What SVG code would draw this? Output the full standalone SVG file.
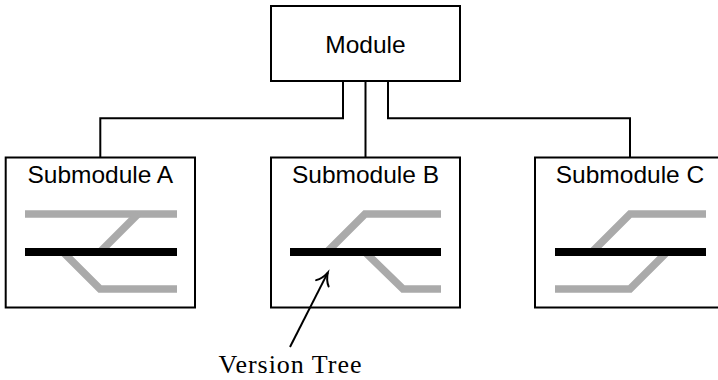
<svg xmlns="http://www.w3.org/2000/svg" width="718" height="380" viewBox="0 0 718 380">
  <style>
    .box { fill: #ffffff; stroke: #000000; stroke-width: 2; }
    .label { font-family: "Liberation Sans", Arial, sans-serif; font-size: 24.5px; fill: #000000; text-anchor: middle; }
    .note { font-family: "Liberation Serif", "Times New Roman", serif; font-size: 26px; fill: #000000; text-anchor: middle; }
    .wire { fill: none; stroke: #000000; stroke-width: 2; }
    .branch { fill: none; stroke: #aaaaaa; stroke-width: 7.5; stroke-linecap: butt; stroke-linejoin: miter; }
    .trunk { fill: none; stroke: #000000; stroke-width: 8; stroke-linecap: butt; }
  </style>
  <defs>
    <marker id="to" markerUnits="userSpaceOnUse" markerWidth="24" markerHeight="24" viewBox="-14 -12 24 24" refX="0" refY="0" orient="auto" overflow="visible">
      <path d="M-12,-7 C-8,-2.5 -3,-0.8 0,0 C-3,0.8 -8,2.5 -12,7" fill="none" stroke="#000000" stroke-width="2" stroke-linecap="round"/>
    </marker>
  </defs>

  <!-- connectors from the parent module to each submodule -->
  <g id="connectors">
    <path class="wire" d="M343 81 V118.3 H100.3 V157.5"/>
    <path class="wire" d="M365.5 81 V157.5"/>
    <path class="wire" d="M388 81 V118.3 H630 V157.5"/>
  </g>

  <g id="module">
    <rect class="box" x="271" y="6" width="189" height="75"/>
    <text class="label" x="365.5" y="53">Module</text>
  </g>

  <g id="submodule-a">
    <rect class="box" x="5.7" y="157.5" width="189.3" height="150"/>
    <text class="label" x="100.3" y="183">Submodule A</text>
    <path class="branch" d="M25 214 H177"/>
    <path class="branch" d="M100 252 L138 214"/>
    <path class="branch" d="M63 252 L100 289 H177"/>
    <path class="trunk" d="M25 252 H177"/>
  </g>

  <g id="submodule-b">
    <rect class="box" x="271" y="157.5" width="189" height="150"/>
    <text class="label" x="365.5" y="183">Submodule B</text>
    <path class="branch" d="M327 252 L365 214 H441"/>
    <path class="branch" d="M365 252 L403 289 H441"/>
    <path class="trunk" d="M290 252 H441"/>
  </g>

  <g id="submodule-c">
    <rect class="box" x="535" y="157.5" width="189" height="150"/>
    <text class="label" x="630" y="183">Submodule C</text>
    <path class="branch" d="M592 252 L630 214 H706"/>
    <path class="branch" d="M555 289 H630 L667 252"/>
    <path class="trunk" d="M555 252 H706"/>
  </g>

  <g id="version-tree-note">
    <path class="wire" d="M290 347 L327.8 272.6" marker-end="url(#to)"/>
    <text class="note" x="290" y="373" textLength="143" lengthAdjust="spacing">Version Tree</text>
  </g>
</svg>
